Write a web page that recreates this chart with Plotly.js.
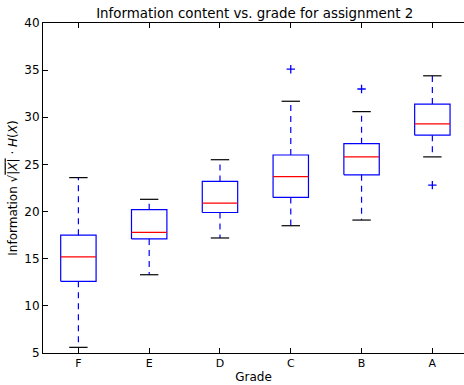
<!DOCTYPE html>
<html>
<head>
<meta charset="utf-8">
<script src="https://cdn.plot.ly/plotly-3.0.1.min.js"></script>
<style>html,body{margin:0;padding:0;background:#fff;}#chart{width:464px;height:385px;}</style>
</head>
<body>
<div id="chart"></div>
<script>
const categories = ['F', 'E', 'D', 'C', 'B', 'A'];
const lowerWhisker = [5.6, 13.3, 17.2, 18.5, 19.1, 25.8];
const q1 = [12.6, 17.1, 19.9, 21.5, 23.9, 28.1];
const median = [15.2, 17.8, 20.9, 23.7, 25.8, 29.3];
const q3 = [17.5, 20.2, 23.2, 26.0, 27.2, 31.4];
const upperWhisker = [23.6, 21.3, 25.5, 31.7, 30.6, 34.4];
const outlierGroup = ['C', 'B', 'A'];
const outlierValue = [35.1, 33.0, 22.8];

const pos = categories.map((c, i) => i + 1);
const boxHalf = 0.25, capHalf = 0.13;

const bx = [], by = [], mx = [], my = [], wx = [], wy = [], cx = [], cy = [];
pos.forEach((p, i) => {
  bx.push(p - boxHalf, p + boxHalf, p + boxHalf, p - boxHalf, p - boxHalf, null);
  by.push(q1[i], q1[i], q3[i], q3[i], q1[i], null);
  mx.push(p - boxHalf, p + boxHalf, null);
  my.push(median[i], median[i], null);
  wx.push(p, p, null, p, p, null);
  wy.push(q3[i], upperWhisker[i], null, q1[i], lowerWhisker[i], null);
  cx.push(p - capHalf, p + capHalf, null, p - capHalf, p + capHalf, null);
  cy.push(upperWhisker[i], upperWhisker[i], null, lowerWhisker[i], lowerWhisker[i], null);
});
const ox = outlierGroup.map(g => categories.indexOf(g) + 1);

const traces = [
  {x: wx, y: wy, mode: 'lines', line: {color: '#0000ff', width: 1.2, dash: '6px,5px'}, hoverinfo: 'skip'},
  {x: cx, y: cy, mode: 'lines', line: {color: '#000000', width: 1.2}, hoverinfo: 'skip'},
  {x: bx, y: by, mode: 'lines', line: {color: '#0000ff', width: 1.2}, hoverinfo: 'skip'},
  {x: mx, y: my, mode: 'lines', line: {color: '#ff0000', width: 1.2}, hoverinfo: 'skip'},
  {x: ox, y: outlierValue, mode: 'markers', marker: {symbol: 'cross-thin-open', size: 6, color: '#0000ff', line: {color: '#0000ff', width: 1.3}}, hoverinfo: 'skip'}
];

const font = {family: 'DejaVu Sans', color: '#000000', size: 12};
const layout = {
  width: 464, height: 385,
  margin: {l: 43, r: 0, t: 23, b: 32, pad: 0},
  paper_bgcolor: '#ffffff', plot_bgcolor: '#ffffff',
  showlegend: false,
  font: font,
  title: {text: 'Information content vs. grade for assignment 2', font: {family: 'DejaVu Sans', size: 13.4, color: '#000'}, x: 0.503, xref: 'paper', xanchor: 'center', y: 0.965, yanchor: 'middle'},
  xaxis: {
    range: [0.5, 6.447], tickvals: pos, ticktext: categories,
    showgrid: false, zeroline: false, showline: true, linecolor: '#000', linewidth: 1,
    mirror: 'ticks', ticks: 'inside', ticklen: 5, tickcolor: '#000',
    tickfont: {family: 'DejaVu Sans', size: 11, color: '#000'},
    title: {text: 'Grade', font: {family: 'DejaVu Sans', size: 12, color: '#000'}, standoff: 3}
  },
  yaxis: {
    range: [5, 40], tickvals: [5, 10, 15, 20, 25, 30, 35, 40],
    showgrid: false, zeroline: false, showline: true, linecolor: '#000', linewidth: 1,
    mirror: false, ticks: 'inside', ticklen: 5, tickcolor: '#000',
    tickfont: {family: 'DejaVu Sans', size: 12, color: '#000'},
    title: {text: 'Information √<span style="text-decoration:overline">|<i>X</i>|</span> · <i>H</i>(<i>X</i>)', font: {family: 'DejaVu Sans', size: 12, color: '#000'}, standoff: 4}
  }
};

Plotly.newPlot('chart', traces, layout, {displayModeBar: false, staticPlot: true});
</script>
</body>
</html>
